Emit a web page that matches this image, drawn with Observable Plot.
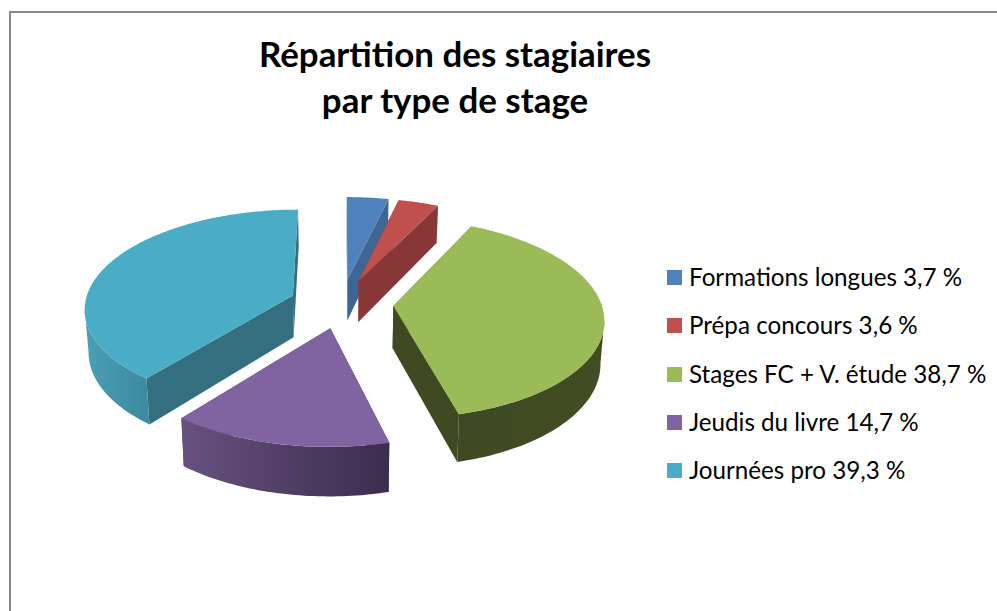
<!DOCTYPE html>
<html lang="fr">
<head>
<meta charset="utf-8">
<script src="https://cdn.jsdelivr.net/npm/d3@7"></script>
<script src="https://cdn.jsdelivr.net/npm/@observablehq/plot@0.6"></script>
<style>
html,body{margin:0;padding:0;background:#fff;}
#page{position:relative;width:997px;height:611px;overflow:hidden;font-family:Lato,"Open Sans",sans-serif;color:#000;}
#frame{position:absolute;left:9px;top:11px;right:-4px;bottom:-4px;border:2px solid #8a8a8a;}
#chart{position:absolute;left:0;top:0;}
#title{position:absolute;left:205px;width:500px;top:31px;text-align:center;font-weight:700;font-size:34.9px;line-height:46px;}
.row{position:absolute;left:667px;height:16px;white-space:nowrap;font-size:24.2px;line-height:16px;}
.row i{position:absolute;left:0;top:0;width:15px;height:15px;}
.row span{position:absolute;left:22px;top:-1px;}
</style>
</head>
<body>
<div id="page">
  <div id="frame"></div>
  <div id="chart"></div>
  <div id="title">Répartition des stagiaires<br>par type de stage</div>
</div>
<script>
const labels = ["Formations longues", "Prépa concours", "Stages FC + V. étude", "Jeudis du livre", "Journées pro"];
const values = [3.7, 3.6, 38.7, 14.7, 39.3];
const valueTexts = ["3,7 %", "3,6 %", "38,7 %", "14,7 %", "39,3 %"];
const topColors = ["#4f81bd", "#c0504d", "#9bbb59", "#8064a2", "#4bacc6"];
const faceColors = ["#3e6695", "#873735", "#3f4a22", "#5f4a7a", "#346f80"];
const paintOrder = [4, 0, 1, 3, 2];

const W = 997, H = 611;
const cx = 341, cy = 303;          // pie centre on the page
const Rx = 208, Ry = 98;           // pixels per pie radius
const tilt = 0.12, explode = 0.25; // perspective strength, slice offset
const depth = 0.43, shrink = 0.985;

const total = d3.sum(values);
let acc = 0;
const slices = values.map((v, i) => {
  const a0 = acc / total * 2 * Math.PI;
  acc += v;
  return {i, label: labels[i], a0, a1: acc / total * 2 * Math.PI};
});

function project(s, a, r, low) {
  const mid = (s.a0 + s.a1) / 2;
  const u = explode * Math.sin(mid) + r * Math.sin(a);
  const v = explode * Math.cos(mid) + r * Math.cos(a);
  const k = 1 / (1 + tilt * v);
  return {
    label: s.label,
    x: u * k * (low ? shrink : 1),
    y: v * k - (low ? depth * k : 0)
  };
}
function arc(s, a0, a1, low) {
  const n = Math.max(2, Math.ceil((a1 - a0) / 0.02));
  return d3.range(n + 1).map(j => project(s, a0 + (a1 - a0) * j / n, 1, low));
}
function radial(s, a) {
  return [project(s, a, 0, false), project(s, a, 1, false), project(s, a, 1, true), project(s, a, 0, true)];
}
const poly = (pts, fill) => Plot.line(pts, {x: "x", y: "y", fill, stroke: "none", curve: "linear"});

const wallLimit = [98 * Math.PI / 180, 262 * Math.PI / 180];
const wallFill = ["#3e6695", "#873735", "url(#wallGreen)", "url(#wallPurple)", "url(#wallTeal)"];

function gradientDefs() {
  const defs = d3.create("svg:defs");
  const grads = {
    wallGreen: ["#3f4a22", "#414d22"],
    wallPurple: ["#67517f", "#3c2c4e"],
    wallTeal: ["#4a9fb6", "#3c8a9f"]
  };
  for (const [id, [c0, c1]] of Object.entries(grads)) {
    const g = defs.append("linearGradient").attr("id", id);
    g.append("stop").attr("offset", "0%").attr("stop-color", c0);
    g.append("stop").attr("offset", "100%").attr("stop-color", c1);
  }
  return defs.node();
}

const marks = [gradientDefs];
for (const idx of paintOrder) {
  const s = slices[idx];
  marks.push(poly(radial(s, s.a0), faceColors[idx]));
  marks.push(poly(radial(s, s.a1), faceColors[idx]));
  const w0 = Math.max(s.a0, wallLimit[0]), w1 = Math.min(s.a1, wallLimit[1]);
  if (w1 > w0) {
    marks.push(poly([...arc(s, w0, w1, false), ...arc(s, w0, w1, true).reverse()], wallFill[idx]));
  }
  marks.push(poly([project(s, 0, 0, false), ...arc(s, s.a0, s.a1, false)], "label"));
}

const chart = Plot.plot({
  width: W, height: H,
  margin: 0,
  style: {background: "transparent"},
  x: {axis: null, domain: [-cx / Rx, (W - cx) / Rx], range: [0, W]},
  y: {axis: null, domain: [cy / Ry, (cy - H) / Ry], range: [0, H]},
  color: {type: "ordinal", domain: labels, range: topColors},
  marks
});
document.getElementById("chart").append(chart);

const page = document.getElementById("page");
labels.forEach((name, i) => {
  const row = document.createElement("div");
  row.className = "row";
  row.style.top = (270 + i * 48.25) + "px";
  const sw = document.createElement("i");
  sw.style.background = topColors[i];
  const txt = document.createElement("span");
  txt.textContent = name + " " + valueTexts[i];
  row.append(sw, txt);
  page.append(row);
});
</script>
</body>
</html>
